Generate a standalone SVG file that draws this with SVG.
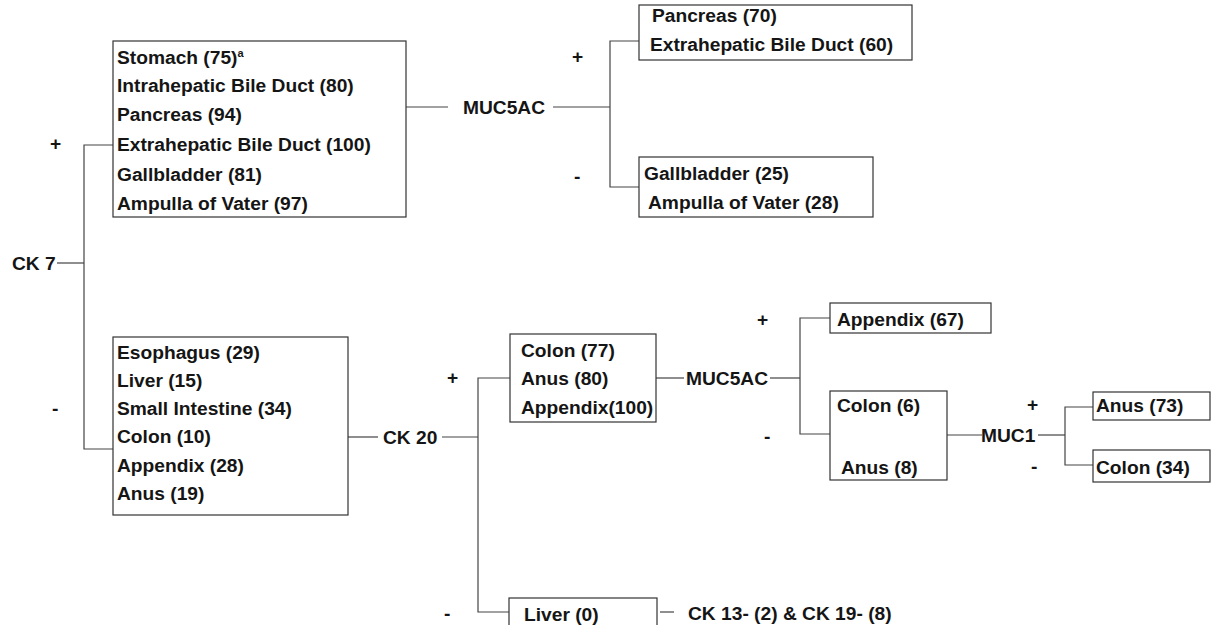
<svg xmlns="http://www.w3.org/2000/svg" width="1211" height="625" viewBox="0 0 1211 625">
<style>
text{font-family:"Liberation Sans",Arial,sans-serif;font-weight:bold;font-size:19.2px;fill:#151515}
.box{fill:#fff;stroke:#333;stroke-width:1.2}
.c line,.c polyline{stroke:#444;stroke-width:1.2;fill:none}
</style>
<rect width="1211" height="625" fill="#fff"/>
<g class="c" id="connectors">
<polyline points="57,263 84,263"/>
<polyline points="113,145 84,145 84,449 113,449"/>
<line x1="406" y1="107" x2="448" y2="107"/>
<polyline points="553,107 610,107"/>
<polyline points="639,41 610,41 610,187 639,187"/>
<line x1="348" y1="437" x2="378" y2="437"/>
<line x1="442" y1="437" x2="478" y2="437"/>
<polyline points="510,378 478,378 478,612 509,612"/>
<line x1="660" y1="612" x2="674" y2="612"/>
<line x1="656" y1="378" x2="684" y2="378"/>
<line x1="770" y1="378" x2="800" y2="378"/>
<polyline points="830,318 800,318 800,434 830,434"/>
<line x1="947" y1="435" x2="982" y2="435"/>
<line x1="1038" y1="435" x2="1065" y2="435"/>
<polyline points="1093,407 1065,407 1065,465 1093,465"/>
</g>
<g id="labels">
<text x="12" y="270">CK 7</text>
<text x="50" y="150">+</text>
<text x="52" y="415">-</text>
<text x="463" y="114">MUC5AC</text>
<text x="572" y="63">+</text>
<text x="574" y="183">-</text>
<text x="383" y="444">CK 20</text>
<text x="447" y="384">+</text>
<text x="444" y="620">-</text>
<text x="688" y="620">CK 13- (2) &amp; CK 19- (8)</text>
<text x="686" y="385">MUC5AC</text>
<text x="757" y="326">+</text>
<text x="764" y="443">-</text>
<text x="981" y="442">MUC1</text>
<text x="1027" y="411">+</text>
<text x="1031" y="473">-</text>
</g>
<g id="n-ck7pos">
<rect class="box" x="113" y="41" width="293" height="176"/>
<text x="117" y="64">Stomach (75)<tspan font-size="11" dy="-7">a</tspan></text>
<text x="117" y="92">Intrahepatic Bile Duct (80)</text>
<text x="117" y="121">Pancreas (94)</text>
<text x="117" y="151">Extrahepatic Bile Duct (100)</text>
<text x="117" y="181">Gallbladder (81)</text>
<text x="117" y="210">Ampulla of Vater (97)</text>
</g>
<g id="n-muc5ac-pos">
<rect class="box" x="639" y="5" width="273" height="55"/>
<text x="652" y="22">Pancreas (70)</text>
<text x="650" y="51">Extrahepatic Bile Duct (60)</text>
</g>
<g id="n-muc5ac-neg">
<rect class="box" x="639" y="157" width="234" height="60"/>
<text x="644" y="180">Gallbladder (25)</text>
<text x="648" y="209">Ampulla of Vater (28)</text>
</g>
<g id="n-ck7neg">
<rect class="box" x="113" y="337" width="235" height="178"/>
<text x="117" y="359">Esophagus (29)</text>
<text x="117" y="387">Liver (15)</text>
<text x="117" y="415">Small Intestine (34)</text>
<text x="117" y="443">Colon (10)</text>
<text x="117" y="472">Appendix (28)</text>
<text x="117" y="500">Anus (19)</text>
</g>
<g id="n-ck20pos">
<rect class="box" x="510" y="334" width="146" height="88"/>
<text x="521" y="357">Colon (77)</text>
<text x="521" y="385">Anus (80)</text>
<text x="521" y="414">Appendix(100)</text>
</g>
<g id="n-ck20neg">
<rect class="box" x="509" y="598" width="148" height="45"/>
<text x="524" y="621">Liver (0)</text>
</g>
<g id="n-appendix67">
<rect class="box" x="830" y="303" width="161" height="30"/>
<text x="837" y="326">Appendix (67)</text>
</g>
<g id="n-muc5ac2-neg">
<rect class="box" x="830" y="391" width="117" height="89"/>
<text x="837" y="412">Colon (6)</text>
<text x="841" y="474">Anus (8)</text>
</g>
<g id="n-anus73">
<rect class="box" x="1093" y="392" width="117" height="28"/>
<text x="1096" y="412">Anus (73)</text>
</g>
<g id="n-colon34">
<rect class="box" x="1093" y="450" width="117" height="32"/>
<text x="1096" y="474">Colon (34)</text>
</g>
</svg>
